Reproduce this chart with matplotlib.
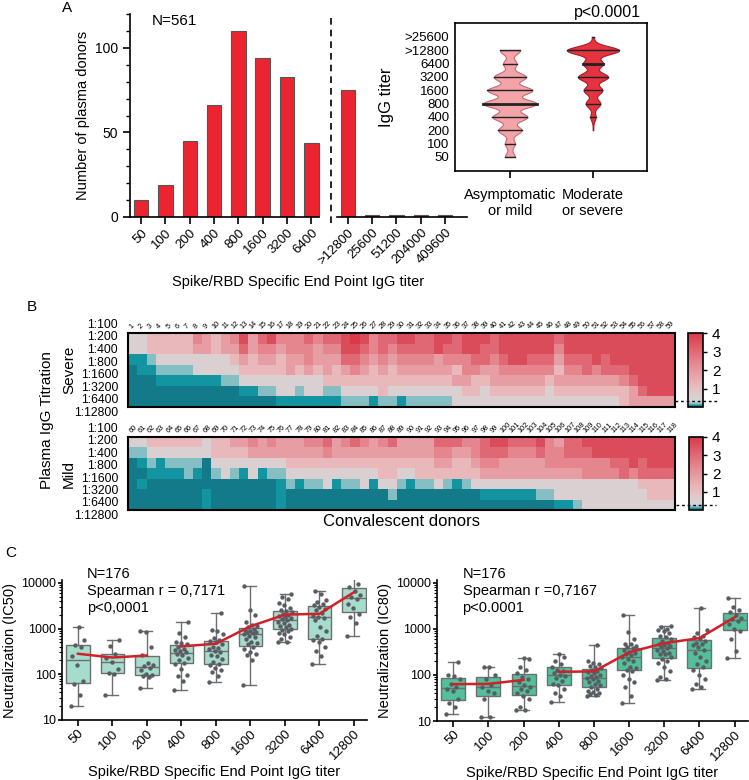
import numpy as np
import matplotlib
matplotlib.use("Agg")
import matplotlib.pyplot as plt
from matplotlib.colors import LinearSegmentedColormap
from matplotlib.ticker import NullFormatter, MultipleLocator

plt.rcParams['font.family'] = ['Liberation Sans', 'DejaVu Sans']

# ---------------- data: panel A (histogram of end point titers)
titers_low = ['50', '100', '200', '400', '800', '1600', '3200', '6400']
titers_high = ['>12800', '25600', '51200', '204000', '409600']
donors_low = [10, 19, 45, 66, 110, 94, 83, 44]
donors_high = [75, 1, 1, 1, 1]

# ---------------- data: panel A (violins, counts per titer level)
violin_levels = [50, 100, 200, 400, 800, 1600, 3200, 6400, 12800, 25600]
violin_labels = ['50', '100', '200', '400', '800', '1600', '3200', '6400', '>12800', '>25600']
violin_groups = ['Asymptomatic\nor mild', 'Moderate\nor severe']
mild_counts = [15, 15, 35, 52, 80, 67, 48, 20, 30, 0]
severe_counts = [0, 0, 1, 8, 22, 28, 45, 30, 78, 3]

# ---------------- data: panel B (heatmaps, one digit per donor, see cell_levels)
dilutions = ['1:100', '1:200', '1:400', '1:800', '1:1600', '1:3200', '1:6400', '1:12800']
cell_levels = [0.0, 0.08, 0.18, 0.5, 1.2, 1.8, 2.4, 3.0, 3.6, 4.0]
severe_rows = [
    "3344444654" "5685786667" "677898677" "8877887888" "7888888788" "8888888888",
    "3344444554" "5575665666" "566887676" "7777877887" "7888888688" "8888888888",
    "1123333333" "3454554556" "555776565" "6666566677" "6788777577" "7878888888",
    "0112222333" "3344444545" "454565454" "5555554665" "5666666466" "7677788888",
    "0001111111" "2233333333" "344444444" "4444445544" "5555554555" "5555678888",
    "0000000000" "0011223323" "322333343" "3333333443" "4444443444" "4444457888",
    "0000000000" "0000001111" "111222122" "1222223333" "3333333333" "3333455555",
]
mild_rows = [
    "3344444434" "4556565556" "675676567" "5555777667" "8877786577" "8888888888",
    "2233333334" "4445555555" "565555555" "5555665567" "7766676677" "7888888888",
    "0121222203" "3333333444" "444444444" "4444554456" "6555556666" "6667787888",
    "0011112102" "3213122333" "333333344" "3344444445" "5555555555" "6666767777",
    "0100000000" "0000001212" "231223133" "2122321233" "3333333333" "3333334444",
    "0000000010" "0000001000" "000000002" "0000000001" "1111122333" "3333333444",
    "0000000010" "0000001000" "000000000" "0000000000" "0000000112" "3333333333",
]
severe_ids = list(range(1, 60))
mild_ids = list(range(60, 119))

# ---------------- data: panel C (neutralization per titer group)
neut_titers = ['50', '100', '200', '400', '800', '1600', '3200', '6400', '12800']
ic50 = [
    [20, 35, 62, 73, 160, 245, 394, 443, 570, 1080],
    [35, 100, 105, 130, 190, 225, 280, 420, 570],
    [50, 88, 90, 95, 100, 125, 140, 150, 160, 180, 270, 390, 820, 870],
    [46, 70, 90, 95, 130, 170, 180, 200, 230, 260, 280, 300, 320, 340, 360, 400,
     450, 480, 520, 650, 800, 1370],
    [69, 90, 110, 125, 140, 160, 170, 190, 220, 250, 270, 300, 330, 350, 370, 400,
     450, 500, 540, 560, 620, 750, 900, 950, 2140],
    [58, 200, 270, 280, 300, 350, 400, 450, 480, 520, 600, 650, 700, 750, 800, 830,
     850, 900, 950, 1000, 1100, 1150, 1200, 1400, 2000, 2500, 8700],
    [500, 520, 600, 650, 750, 800, 900, 950, 1000, 1100, 1150, 1200, 1300, 1400, 1500,
     1600, 1700, 1800, 1900, 2000, 2100, 2300, 2400, 2600, 2800, 3200, 3600, 4500, 5000, 5800],
    [170, 250, 320, 400, 500, 550, 600, 700, 900, 1100, 1500, 1700, 1800, 1900, 2200,
     2500, 2700, 3000, 3300, 3500, 3800, 4300, 5600, 6600],
    [700, 1300, 1800, 2100, 2800, 3500, 4500, 5000, 5500, 6500, 8000, 9500, 14000, 16500],
]
ic50_line_lo = [281, 232, 257]
ic50_line_hi = [407, 465, 1120, 2010, 2100, 6200]
ic80 = [
    [14, 20, 25, 30, 45, 50, 55, 65, 80, 95, 100, 195],
    [12, 12.5, 30, 40, 45, 55, 60, 80, 100, 145, 148],
    [17, 17, 20, 30, 35, 40, 45, 50, 55, 60, 70, 80, 90, 110, 130, 150, 220, 230],
    [26, 35, 40, 50, 60, 65, 75, 85, 95, 100, 110, 120, 130, 150, 170, 200, 250, 280],
    [35, 36, 38, 40, 42, 45, 50, 55, 60, 65, 70, 75, 80, 85, 90, 95, 100, 110, 115,
     120, 130, 140, 150, 160, 170, 180, 200, 450],
    [24, 35, 55, 70, 80, 100, 120, 130, 140, 150, 180, 200, 220, 250, 270, 280, 300,
     320, 350, 380, 400, 420, 460, 480, 600, 850, 2000],
    [76, 80, 90, 120, 150, 180, 200, 220, 250, 280, 290, 300, 330, 350, 380, 400, 420,
     450, 480, 500, 550, 600, 650, 700, 800, 900, 950, 1000, 1100, 1130],
    [50, 55, 65, 80, 100, 130, 150, 170, 200, 250, 300, 350, 400, 450, 480, 500, 550,
     600, 650, 700, 800, 950, 2900],
    [230, 330, 600, 900, 1000, 1300, 1500, 1600, 1700, 2000, 2300, 2600, 3000, 4700],
]
ic80_line_lo = [63, 64, 78]
ic80_line_hi = [117, 119, 310, 490, 630, 1790]

W, H = 749, 780
fig = plt.figure(figsize=(W / 100, H / 100), dpi=100)


def rect(x0, y0, x1, y1):
    # pixel box (top-left origin) -> figure fraction
    return [x0 / W, 1 - y1 / H, (x1 - x0) / W, (y1 - y0) / H]


# ================= A: bar chart
bar_red = '#ec242f'
axA = fig.add_axes(rect(130, 14, 467, 217))
xl = np.arange(len(titers_low))
xh = np.arange(len(titers_high)) + len(titers_low) + 0.5
axA.bar(xl, donors_low, width=0.6, color=bar_red, edgecolor='#555555', lw=0.8)
axA.bar(xh, donors_high, width=0.6, color=bar_red, edgecolor='#555555', lw=0.8)
axA.set_xticks(np.concatenate([xl, xh]))
axA.set_xticklabels(titers_low + titers_high, rotation=45, ha='right',
                    rotation_mode='anchor', fontsize=9.5)
axA.set_xlim(-0.46, 13.4)
axA.set_ylim(0, 120)
axA.set_yticks([0, 50, 100])
axA.yaxis.set_minor_locator(MultipleLocator(10))
axA.tick_params(axis='y', labelsize=10, width=1.2, length=5)
axA.tick_params(axis='y', which='minor', length=3, width=1)
axA.tick_params(axis='x', width=1.2, length=5, pad=2)
for s in ['top', 'right', 'bottom']:
    axA.spines[s].set_visible(False)
axA.spines['left'].set_linewidth(1.2)
axA.plot([-0.46, 7.3], [0, 0], color='k', lw=1.2, clip_on=False)
axA.plot([8.05, 13.4], [0, 0], color='k', lw=1.2, clip_on=False)
axA.axvline(7.8, ymin=-0.03, ymax=1.0, color='k', ls=(0, (4, 3)), lw=1.2, clip_on=False)
axA.set_ylabel('Number of plasma donors', fontsize=10.5)
axA.set_xlabel('Spike/RBD Specific End Point IgG titer', fontsize=10.5, labelpad=6)
axA.text(0.065, 0.965, 'N=561', transform=axA.transAxes, fontsize=11, va='center')
fig.text(62 / W, 1 - 8 / H, 'A', fontsize=11, va='center')

# ================= A: violins
axV = fig.add_axes(rect(455, 23, 647, 171))
axV.set_yscale('log', base=2)
scale = 0.32 / 80
for xpos, counts, lo, hi, fc, ec in [
        (0, mild_counts, 50, 12800, '#f3a4a8', '#c86a70'),
        (1, severe_counts, 200, 25600, '#e5333f', '#a3202b')]:
    g = np.linspace(np.log2(lo), np.log2(hi), 500)
    dens = np.zeros_like(g)
    for lev, c in zip(violin_levels, counts):
        dens += c * np.exp(-0.5 * ((g - np.log2(lev)) / 0.3) ** 2)
    hw = dens * scale
    axV.fill_betweenx(2 ** g, xpos - hw, xpos + hw, facecolor=fc, edgecolor=ec, lw=0.8)
    cum = np.cumsum(counts)
    med = violin_levels[int(np.searchsorted(cum, cum[-1] / 2))]
    for lev, c in zip(violin_levels, counts):
        if c == 0 or lev < lo or lev > hi:
            continue
        w = np.interp(np.log2(lev), g, hw)
        axV.plot([xpos - w, xpos + w], [lev, lev], color='#222222',
                 lw=2.0 if lev == med else 1.0)
axV.set_xlim(-0.66, 1.65)
axV.set_ylim(24, 53000)
axV.set_yticks(violin_levels)
axV.set_yticklabels(violin_labels)
axV.yaxis.set_minor_formatter(NullFormatter())
axV.tick_params(axis='y', which='both', length=0, labelsize=9.5, pad=4)
axV.set_xticks([0, 1])
axV.set_xticklabels(violin_groups, fontsize=10.5)
axV.tick_params(axis='x', length=5, width=1.2, pad=7)
for s in axV.spines.values():
    s.set_linewidth(1.2)
axV.set_ylabel('IgG titer', fontsize=12, labelpad=8)
fig.text(607 / W, 1 - 12 / H, 'p<0.0001', fontsize=11.5, ha='center', va='center')

# ================= B: heatmaps
cmap = LinearSegmentedColormap.from_list('tealred', [
    (0.0, '#127a89'), (0.02, '#1496a2'), (0.045, '#8fc2c6'), (0.075, '#d4d4d4'),
    (0.125, '#dad1d2'), (0.3, '#e9b8bb'), (0.6, '#e5868f'), (1.0, '#d93a4b')])


def heatmap(box, cbox, rows, ids, side_label):
    ax = fig.add_axes(rect(*box))
    mat = np.array([[cell_levels[int(ch)] for ch in r] for r in rows])
    im = ax.imshow(mat, cmap=cmap, vmin=0, vmax=4, aspect='auto', interpolation='nearest',
                   extent=(0.5, len(ids) + 0.5, len(rows) + 0.5, 0.5))
    ax.xaxis.tick_top()
    ax.set_xticks(np.arange(1, len(ids) + 1))
    ax.set_xticklabels([str(i) for i in ids], rotation=45, ha='left',
                       rotation_mode='anchor', fontsize=5.3)
    ax.tick_params(axis='x', length=0, pad=2)
    ax.set_yticks([])
    for s in ax.spines.values():
        s.set_linewidth(1.5)
    for k, lab in enumerate(dilutions):
        ax.text(-0.018, 1.11 - k * 0.17, lab, transform=ax.transAxes,
                ha='right', va='center', fontsize=8.8)
    ax.text(-0.108, 0.5, side_label, transform=ax.transAxes, rotation=90,
            ha='center', va='center', fontsize=11)
    cax = fig.add_axes(rect(*cbox))
    cb = fig.colorbar(im, cax=cax, ticks=[1, 2, 3, 4])
    cb.outline.set_linewidth(1.2)
    cax.tick_params(labelsize=11, length=3, width=1)
    cax.plot([-0.9, 1.9], [0.3, 0.3], color='k', ls=(0, (2, 2)), lw=1, clip_on=False)
    return ax


axS = heatmap((128, 333, 675, 407), (688, 333, 703, 407), severe_rows, severe_ids, 'Severe')
axM = heatmap((128, 437, 675, 510), (689, 437, 703, 510), mild_rows, mild_ids, 'Mild')
axM.set_xlabel('Convalescent donors', fontsize=12, labelpad=3)
fig.text(47 / W, 1 - 420 / H, 'Plasma IgG Titration', rotation=90, ha='center',
         va='center', fontsize=11)
fig.text(27 / W, 1 - 307 / H, 'B', fontsize=11, va='center')

# ================= C: neutralization vs titer


def neut_panel(box, groups, line_lo, line_hi, box_color, ylabel, note):
    ax = fig.add_axes(rect(*box))
    pos = np.arange(len(groups))
    ax.boxplot(groups, positions=pos, widths=0.68, whis=(0, 100), patch_artist=True,
               showfliers=False, capwidths=0.3,
               boxprops=dict(facecolor=box_color, edgecolor='#6e6e6e', lw=1),
               medianprops=dict(color='#6e6e6e', lw=1),
               whiskerprops=dict(color='#6e6e6e', lw=1),
               capprops=dict(color='#6e6e6e', lw=1))
    for i, vals in enumerate(groups):
        n = len(vals)
        offs = ((np.arange(n) * 0.618034) % 1 - 0.5) * 0.42
        ax.scatter(i + offs, vals, s=10, color='#585d63', zorder=3, linewidths=0)
    ax.plot(pos[:3], line_lo, color='#d0202a', lw=1.8, zorder=4)
    ax.plot(pos[3:], line_hi, color='#d0202a', lw=1.8, zorder=4)
    ax.set_yscale('log')
    ax.set_ylim(10, 11500)
    ax.set_yticks([10, 100, 1000, 10000])
    ax.set_yticklabels(['10', '100', '1000', '10000'])
    ax.yaxis.set_minor_formatter(NullFormatter())
    ax.set_xlim(-0.46, 8.38)
    ax.set_xticks(pos)
    ax.set_xticklabels(neut_titers, rotation=45, ha='right', rotation_mode='anchor',
                       fontsize=9.5)
    ax.tick_params(axis='y', labelsize=9, width=1.2, length=3, pad=1)
    ax.tick_params(axis='y', which='minor', length=2, width=0.8)
    ax.tick_params(axis='x', width=1.2, length=4, pad=1.5)
    for s in ['top', 'right']:
        ax.spines[s].set_visible(False)
    for s in ['left', 'bottom']:
        ax.spines[s].set_linewidth(1.2)
    ax.set_ylabel(ylabel, fontsize=10.5, labelpad=3)
    ax.set_xlabel('Spike/RBD Specific End Point IgG titer', fontsize=10.5, labelpad=2)
    ax.text(0.082, 1.09, note, transform=ax.transAxes, ha='left', va='top',
            fontsize=10.5, linespacing=1.25)
    return ax


neut_panel((62, 580, 367, 720), ic50, ic50_line_lo, ic50_line_hi, '#a6dccb',
           'Neutralization (IC50)', 'N=176\nSpearman r = 0,7171\np<0,0001')
neut_panel((437, 580, 748, 721), ic80, ic80_line_lo, ic80_line_hi, '#52c09a',
           'Neutralization (IC80)', 'N=176\nSpearman r =0,7167\np<0.0001')
fig.text(5 / W, 1 - 553 / H, 'C', fontsize=11, va='center')

fig.savefig('out.png', dpi=100)
